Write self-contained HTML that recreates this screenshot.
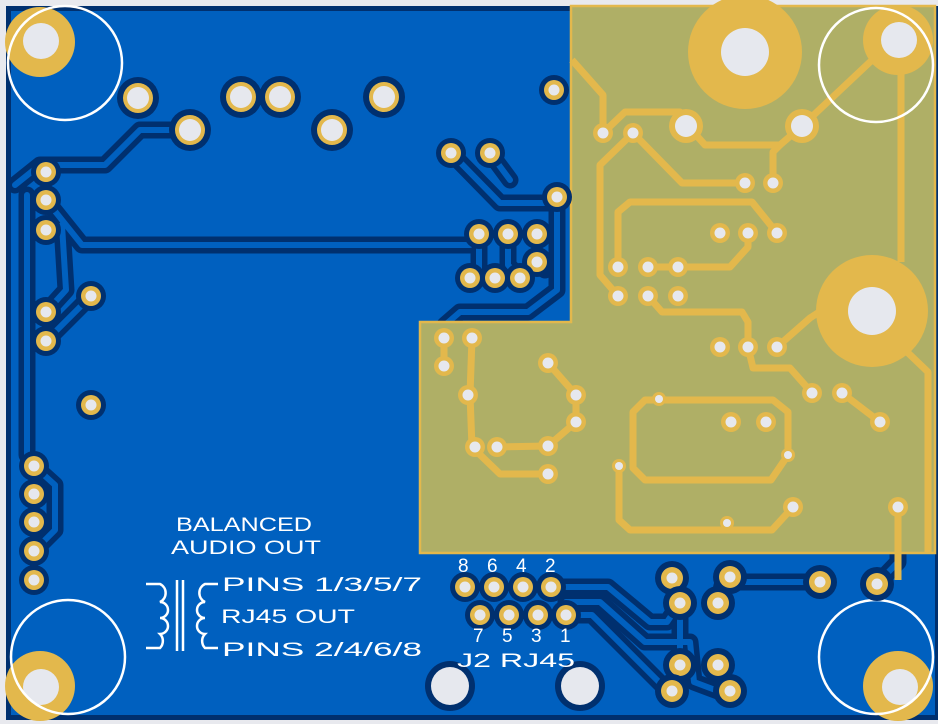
<!DOCTYPE html>
<html><head><meta charset="utf-8"><style>
html,body{margin:0;padding:0;background:#e8e9ee;}
svg{display:block}
text{font-family:"Liberation Sans",sans-serif;fill:#fff;}
</style></head><body>
<svg width="938" height="724" viewBox="0 0 938 724" xmlns="http://www.w3.org/2000/svg">
<rect x="0" y="0" width="938" height="724" fill="#e8e9ee"/>
<rect x="6" y="6" width="932" height="714" fill="#00306f"/>
<rect x="11" y="11" width="924" height="704" fill="#0060bf"/>

<g id="tr" fill="none" stroke-linejoin="round" stroke-linecap="round">
<path d="M15 185 L40 165 L105 165 L140 130 L190 130"/>
<path d="M46 200 L82 245 L470 245 L479 234"/>
<path d="M27 195 L27 455 L34 466"/>
<path d="M62 225 L66 290 L46 312"/>
<path d="M91 296 L46 341"/>
<path d="M34 466 L55 485 L55 530 L34 551"/>
<path d="M451 153 L500 203 L557 203 L557 197"/>
<path d="M490 153 L510 180"/>
<path d="M557 197 L557 290 L528 312 L460 312 L445 325"/>
<path d="M479 234 L479 278 M508 234 L508 265 L520 278 M537 262 L545 270"/>
<path d="M551 587 L608 587 L650 622 L667 622 L680 603"/>
<path d="M566 602 L600 602 L645 642 L690 642 L694 682 L718 691"/>
<path d="M566 615 L592 615 L665 688 L672 691"/>
<path d="M730 582 L820 582"/>
<path d="M718 603 L722 586"/>
<path d="M680 603 L680 665"/>
<path d="M877 584 L898 562 L898 553"/>
</g>
<use href="#tr" stroke="#00306f" stroke-width="17"/>
<use href="#tr" stroke="#0060bf" stroke-width="6"/>

<path d="M571 6 L935 6 L935 553 L420 553 L420 322 L571 322 Z" fill="#afaf66" stroke="#e3b84c" stroke-width="2.5"/>

<g fill="none" stroke="#e3b84c" stroke-width="7" stroke-linejoin="round">
<path d="M572 60 L603 95 L603 133"/>
<path d="M603 133 L625 112 L680 112 L688 126"/>
<path d="M688 126 L705 145 L780 145 L802 126"/>
<path d="M780 145 L773 152 L773 183"/>
<path d="M802 126 L870 62 L898 40"/>
<path d="M901 70 L901 262"/>
<path d="M633 133 L600 165 L600 275 L618 296"/>
<path d="M633 133 L682 183 L745 183"/>
<path d="M618 267 L618 212 L630 202 L752 202 L777 233"/>
<path d="M648 267 L730 267 L748 247 L748 233"/>
<path d="M648 296 L662 312 L742 312 L748 322 L748 347"/>
<path d="M748 347 L753 368 L790 368 L812 393"/>
<path d="M777 347 L810 318 L830 305"/>
<path d="M842 393 L880 422"/>
<path d="M905 350 L928 372 L928 553"/>
<path d="M444 338 L444 366"/>
<path d="M472 338 L470 395 L472 447 L500 474 L548 474"/>
<path d="M497 447 L548 446 L576 422 L576 395 L548 363"/>
<path d="M660 400 L773 400 L788 412 L788 455 L771 480 L645 480 L633 468 L633 412 L645 400 Z"/>
<path d="M619 466 L619 520 L630 530 L772 530 L793 507"/>
<path d="M898 507 L898 580"/>
</g>

<circle cx="745" cy="52" r="57" fill="#e3b84c"/><circle cx="745" cy="52" r="24" fill="#e6e8ee"/>
<circle cx="872" cy="311" r="56" fill="#e3b84c"/><circle cx="872" cy="311" r="24" fill="#e6e8ee"/>

<g fill="#e3b84c">
<circle cx="40" cy="42" r="35"/><circle cx="898" cy="40" r="35"/>
<circle cx="40" cy="686" r="35"/><circle cx="898" cy="686" r="35"/>
</g>
<g fill="#e6e8ee">
<circle cx="41" cy="41" r="18"/><circle cx="899" cy="40" r="18"/>
<circle cx="41" cy="687" r="18"/><circle cx="900" cy="687" r="18"/>
</g>
<g fill="none" stroke="#fff" stroke-width="2.5">
<circle cx="65" cy="63" r="57"/><circle cx="876" cy="65" r="57"/>
<circle cx="68" cy="657" r="57"/><circle cx="876" cy="657" r="57"/>
</g>

<defs>
<g id="sp"><circle r="15" fill="#00306f"/><circle r="10" fill="#e3b84c"/><circle r="5.5" fill="#e6e8ee"/></g>
<g id="mp"><circle r="17" fill="#00306f"/><circle r="11" fill="#e3b84c"/><circle r="5.5" fill="#e6e8ee"/></g>
<g id="lp"><circle r="21" fill="#00306f"/><circle r="15" fill="#e3b84c"/><circle r="11" fill="#e6e8ee"/></g>
<g id="op"><circle r="10" fill="#e3b84c"/><circle r="5.5" fill="#e6e8ee"/></g>
<g id="os"><circle r="7" fill="#e3b84c"/><circle r="4" fill="#e6e8ee"/></g>
</defs>
<g>
<use href="#sp" x="46" y="172"/><use href="#sp" x="46" y="200"/><use href="#sp" x="46" y="230"/>
<use href="#sp" x="46" y="312"/><use href="#sp" x="46" y="341"/><use href="#sp" x="91" y="296"/><use href="#sp" x="91" y="405"/>
<use href="#sp" x="34" y="466"/><use href="#sp" x="34" y="494"/><use href="#sp" x="34" y="522"/><use href="#sp" x="34" y="551"/><use href="#sp" x="34" y="580"/>
<use href="#sp" x="554" y="90"/><use href="#sp" x="451" y="153"/><use href="#sp" x="490" y="153"/><use href="#sp" x="557" y="197"/>
<use href="#sp" x="479" y="234"/><use href="#sp" x="508" y="234"/><use href="#sp" x="537" y="234"/><use href="#sp" x="537" y="262"/>
<use href="#sp" x="470" y="278"/><use href="#sp" x="495" y="278"/><use href="#sp" x="520" y="278"/>
<use href="#sp" x="465" y="587"/><use href="#sp" x="494" y="587"/><use href="#sp" x="523" y="587"/><use href="#sp" x="551" y="587"/>
<use href="#sp" x="480" y="615"/><use href="#sp" x="509" y="615"/><use href="#sp" x="538" y="615"/><use href="#sp" x="566" y="615"/>
<use href="#mp" x="672" y="578"/><use href="#mp" x="680" y="603"/><use href="#mp" x="730" y="577"/><use href="#mp" x="718" y="603"/>
<use href="#mp" x="820" y="582"/><use href="#mp" x="877" y="584"/><use href="#mp" x="680" y="665"/><use href="#mp" x="718" y="665"/>
<use href="#mp" x="672" y="691"/><use href="#mp" x="730" y="691"/>
<use href="#lp" x="138" y="98"/><use href="#lp" x="190" y="130"/><use href="#lp" x="241" y="97"/><use href="#lp" x="280" y="97"/><use href="#lp" x="332" y="130"/><use href="#lp" x="384" y="97"/>
<circle cx="450" cy="686" r="25" fill="#00306f"/><circle cx="450" cy="686" r="19" fill="#e6e8ee"/>
<circle cx="580" cy="686" r="25" fill="#00306f"/><circle cx="580" cy="686" r="19" fill="#e6e8ee"/>
</g>

<g fill="#e3b84c">
<circle cx="686" cy="126" r="17"/><circle cx="802" cy="126" r="17"/>
</g>
<circle cx="686" cy="126" r="11" fill="#e6e8ee"/><circle cx="802" cy="126" r="11" fill="#e6e8ee"/>
<g>
<use href="#op" x="603" y="133"/><use href="#op" x="633" y="133"/><use href="#op" x="745" y="183"/><use href="#op" x="773" y="183"/>
<use href="#op" x="720" y="233"/><use href="#op" x="748" y="233"/><use href="#op" x="777" y="233"/>
<use href="#op" x="618" y="267"/><use href="#op" x="648" y="267"/><use href="#op" x="678" y="267"/>
<use href="#op" x="618" y="296"/><use href="#op" x="648" y="296"/><use href="#op" x="678" y="296"/>
<use href="#op" x="720" y="347"/><use href="#op" x="748" y="347"/><use href="#op" x="777" y="347"/>
<use href="#op" x="812" y="393"/><use href="#op" x="842" y="393"/><use href="#op" x="880" y="422"/>
<use href="#op" x="444" y="338"/><use href="#op" x="472" y="338"/><use href="#op" x="444" y="366"/>
<use href="#op" x="548" y="363"/><use href="#op" x="576" y="395"/><use href="#op" x="576" y="422"/><use href="#op" x="468" y="395"/>
<use href="#op" x="475" y="447"/><use href="#op" x="497" y="447"/><use href="#op" x="548" y="446"/><use href="#op" x="548" y="474"/>
<use href="#os" x="659" y="399"/><use href="#op" x="731" y="422"/><use href="#op" x="766" y="422"/>
<use href="#os" x="619" y="466"/><use href="#os" x="788" y="455"/><use href="#op" x="793" y="507"/><use href="#os" x="727" y="523"/><use href="#op" x="898" y="507"/>
</g>

<g font-size="19">
<text x="176" y="531" textLength="136" lengthAdjust="spacingAndGlyphs">BALANCED</text>
<text x="171" y="554" textLength="150" lengthAdjust="spacingAndGlyphs">AUDIO OUT</text>
<text x="222" y="591" textLength="200" lengthAdjust="spacingAndGlyphs">PINS 1/3/5/7</text>
<text x="221" y="623" textLength="134" lengthAdjust="spacingAndGlyphs">RJ45 OUT</text>
<text x="222" y="656" textLength="200" lengthAdjust="spacingAndGlyphs">PINS 2/4/6/8</text>
<g font-size="19">
<text x="458" y="572">8</text><text x="487" y="572">6</text><text x="516" y="572">4</text><text x="545" y="572">2</text>
<text x="473" y="642">7</text><text x="502" y="642">5</text><text x="531" y="642">3</text><text x="560" y="642">1</text>
</g>
<text x="457" y="667" textLength="118" lengthAdjust="spacingAndGlyphs">J2 RJ45</text>
</g>
<g fill="none" stroke="#fff" stroke-width="2.5">
<path d="M146 584 L160 584 A10 10 0 0 1 160 602 A8 8 0 0 1 160 618 A8 8 0 0 1 160 634 A10 10 0 0 1 160 648 L146 648"/>
<path d="M177 580 L177 651 M183 580 L183 651"/>
<path d="M218 584 L205 584 A10 10 0 0 0 205 602 A8 8 0 0 0 205 618 A8 8 0 0 0 205 634 A10 10 0 0 0 205 648 L218 648"/>
</g>
</svg>
</body></html>
